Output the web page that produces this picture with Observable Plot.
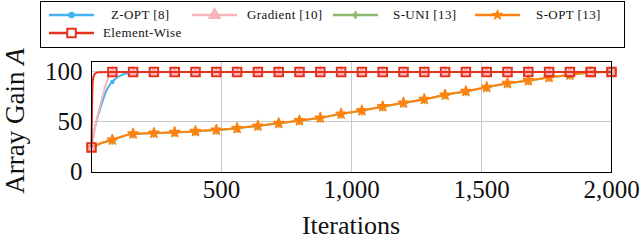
<!DOCTYPE html>
<html>
<head>
<meta charset="utf-8">
<script src="https://cdn.jsdelivr.net/npm/d3@7"></script>
<script src="https://cdn.jsdelivr.net/npm/@observablehq/plot@0.6"></script>
<style>
  body { margin: 0; background: #fff; }
  #wrap { position: relative; width: 640px; height: 241px; overflow: hidden; font-family: "Liberation Serif", serif; }
  #legend { position: relative; width: 640px; height: 50px; }
  #legbox { position: absolute; left: 40px; top: 1px; width: 583px; height: 45px; border: 1px solid #000; }
  .lt { position: absolute; font-family: "Liberation Serif", serif; font-size: 13px; line-height: 14px; letter-spacing: 0.4px; white-space: nowrap; color: #111; }
  .ls { position: absolute; }
</style>
</head>
<body>
<div id="wrap">
  <div id="legend"><div id="legbox"></div></div>
  <div id="chart"></div>
</div>
<script>
// ---- data ----
const seriesNames = ["Z-OPT [8]", "Gradient [10]", "S-UNI [13]", "S-OPT [13]", "Element-Wise"];
const seriesColors = ["#45b2f4", "#f8b6bc", "#8db86b", "#ff8210", "#e5321e"];
const seriesSymbols = ["circle", "triangle", "plus", "star", "square"];

const zoptIter = [0, 3, 15, 35, 54, 73, 80, 92, 112, 150, 160, 240, 320, 400, 480, 560, 640, 680];
const zoptVal  = [24, 30, 46, 64, 79, 87.7, 89.5, 92.7, 96, 99, 99.3, 99.5, 99.5, 99.5, 99.5, 99.5, 99.5, 99.5];

const gradIter = [0, 9, 22, 41, 56, 69, 80, 160, 240, 320, 400, 480, 560, 640, 720, 800, 880, 960, 1040, 1120, 1200, 1280, 1360, 1440, 1520, 1600, 1680, 1760, 1840, 1920, 2000];
const gradVal  = [24, 37.7, 54, 74, 87.7, 96, 99.2, 99.5, 99.5, 99.5, 99.5, 99.5, 99.5, 99.5, 99.5, 99.5, 99.5, 99.5, 99.5, 99.5, 99.5, 99.5, 99.5, 99.5, 99.5, 99.5, 99.5, 99.5, 99.5, 99.5, 99.5];

const soptIter = [0, 28, 80, 160, 240, 320, 400, 480, 560, 640, 720, 800, 880, 960, 1040, 1120, 1200, 1280, 1360, 1440, 1520, 1600, 1680, 1760, 1840, 1920, 2000];
const soptVal  = [24, 27.5, 31.7, 37.8, 38.5, 39.3, 40.3, 41.7, 43.3, 45.7, 48.3, 51, 53.7, 57.7, 61, 65, 68.7, 72.3, 76.7, 80.3, 84.3, 88.3, 91, 94.3, 96.7, 99.3, 99.5];

const suniIter = [0, 28, 80, 160, 240, 320, 400, 480, 560, 640, 720, 800, 880, 960, 1040, 1120, 1200, 1280, 1360, 1440, 1520, 1600, 1680, 1760, 1840, 1920, 2000];
const suniVal  = [24, 27.3, 31.5, 37.6, 38.3, 39.1, 40.1, 41.5, 43.1, 45.5, 48.1, 50.8, 53.5, 57.5, 60.8, 64.8, 68.5, 72.1, 76.5, 80.1, 84.1, 88.1, 90.8, 94.1, 96.5, 99.1, 99.4];

const elemIter = [0, 2.5, 5, 13, 28, 80, 160, 240, 320, 400, 480, 560, 640, 720, 800, 880, 960, 1040, 1120, 1200, 1280, 1360, 1440, 1520, 1600, 1680, 1760, 1840, 1920, 2000];
const elemVal  = [24, 71, 91, 97.7, 99.3, 99.5, 99.5, 99.5, 99.5, 99.5, 99.5, 99.5, 99.5, 99.5, 99.5, 99.5, 99.5, 99.5, 99.5, 99.5, 99.5, 99.5, 99.5, 99.5, 99.5, 99.5, 99.5, 99.5, 99.5, 99.5];

const xTicks = [500, 1000, 1500, 2000];
const yTicks = [0, 50, 100];
const xGrid = [500, 1000, 1500];
const yGrid = [50, 100];
const markerStep = 80;

// ---- build tables ----
const toRows = (iters, vals) => iters.map((x, i) => ({x, y: vals[i]}));
const rows = [
  toRows(zoptIter, zoptVal),
  toRows(gradIter, gradVal),
  toRows(suniIter, suniVal),
  toRows(soptIter, soptVal),
  toRows(elemIter, elemVal)
];
const markRows = rows.map(r => r.filter(d => d.x % markerStep === 0));

// draw order: S-UNI, S-OPT, Z-OPT, Gradient, Element-Wise on top
const order = [2, 3, 0, 1, 4];
const markSizes = {circle: 2.2, triangle: 4.0, plus: 3.2, star: 3.2, square: 4.8};

const marks = [
  Plot.gridX(xGrid, {stroke: "#c8c8c8", strokeOpacity: 1, strokeWidth: 1}),
  Plot.gridY(yGrid, {stroke: "#c8c8c8", strokeOpacity: 1, strokeWidth: 1}),
];
for (const i of order) {
  const c = seriesColors[i];
  const sym = seriesSymbols[i];
  marks.push(Plot.line(rows[i], {x: "x", y: "y", stroke: c, strokeWidth: 2, curve: "monotone-x"}));
  if (sym === "square") {
    marks.push(Plot.dot(markRows[i], {x: "x", y: "y", symbol: sym, r: markSizes[sym], stroke: c, strokeWidth: 2, fill: "none"}));
  } else if (sym === "star" || sym === "plus") {
    marks.push(Plot.dot(markRows[i], {x: "x", y: "y", symbol: sym, r: markSizes[sym], fill: c, stroke: c, strokeWidth: 1.5, strokeLinejoin: "round"}));
  } else {
    marks.push(Plot.dot(markRows[i], {x: "x", y: "y", symbol: sym, r: markSizes[sym], fill: c, stroke: "none"}));
  }
}
marks.push(Plot.frame({stroke: "#000", strokeWidth: 1}));
marks.push(Plot.axisX(xTicks, {tickSize: 0, tickPadding: 8, tickFormat: d3.format(","), label: null, fontSize: 25}));
marks.push(Plot.text(yTicks, {y: d => d, frameAnchor: "left", dx: -9, textAnchor: "end", text: d => String(d), fontSize: 25, fill: "#111"}));

const chart = Plot.plot({
  width: 640,
  height: 191,
  marginTop: 11,
  marginBottom: 69,
  marginLeft: 91,
  marginRight: 29,
  x: {domain: [0, 2000]},
  y: {domain: [-1, 110], axis: null},
  style: {fontFamily: "Liberation Serif", fontSize: "25px", color: "#111", background: "transparent", overflow: "visible"},
  marks
});
document.getElementById("chart").appendChild(chart);

// axis titles
const svg = d3.select(chart);
svg.append("text")
  .attr("x", 351).attr("y", 184)
  .attr("text-anchor", "middle")
  .style("font-size", "26px")
  .attr("fill", "#111")
  .text("Iterations");
const yl = svg.append("text")
  .attr("transform", "translate(24,71) rotate(-90)")
  .attr("text-anchor", "middle")
  .style("font-size", "27px")
  .attr("fill", "#111");
yl.append("tspan").text("Array Gain ");
yl.append("tspan").style("font-style", "italic").text("A");

// ---- legend ----
const legend = document.getElementById("legend");
const legendPos = [
  {sx: 49, tx: 111, cy: 14.5},
  {sx: 192, tx: 247, cy: 14.5},
  {sx: 333, tx: 393, cy: 14.5},
  {sx: 475, tx: 536, cy: 14.5},
  {sx: 49, tx: 103, cy: 32.8}
];
seriesNames.forEach((name, i) => {
  const p = legendPos[i];
  const sym = seriesSymbols[i];
  const c = seriesColors[i];
  const sw = d3.create("svg").attr("width", 45).attr("height", 16)
    .attr("class", "ls")
    .style("left", p.sx + "px").style("top", (p.cy - 8) + "px");
  sw.append("line").attr("x1", 0).attr("x2", 45).attr("y1", 8).attr("y2", 8)
    .attr("stroke", c).attr("stroke-width", 2.4);
  const symType = {circle: d3.symbolCircle, triangle: d3.symbolTriangle, plus: d3.symbolCross, star: d3.symbolStar, square: d3.symbolSquare}[sym];
  const r = markSizes[sym] * (sym === "circle" ? 1.5 : sym === "triangle" ? 1.3 : 1);
  const path = d3.symbol(symType, Math.PI * r * r)();
  const g = sw.append("path").attr("d", path).attr("transform", "translate(22.5,8)");
  if (sym === "square") g.attr("fill", "#fff").attr("stroke", c).attr("stroke-width", 2);
  else if (sym === "star") g.attr("fill", c).attr("stroke", c).attr("stroke-width", 1).attr("stroke-linejoin", "round");
  else g.attr("fill", c);
  legend.appendChild(sw.node());
  const t = document.createElement("div");
  t.className = "lt";
  t.style.left = p.tx + "px";
  t.style.top = (p.cy - 7) + "px";
  t.textContent = name;
  legend.appendChild(t);
});
</script>
</body>
</html>
